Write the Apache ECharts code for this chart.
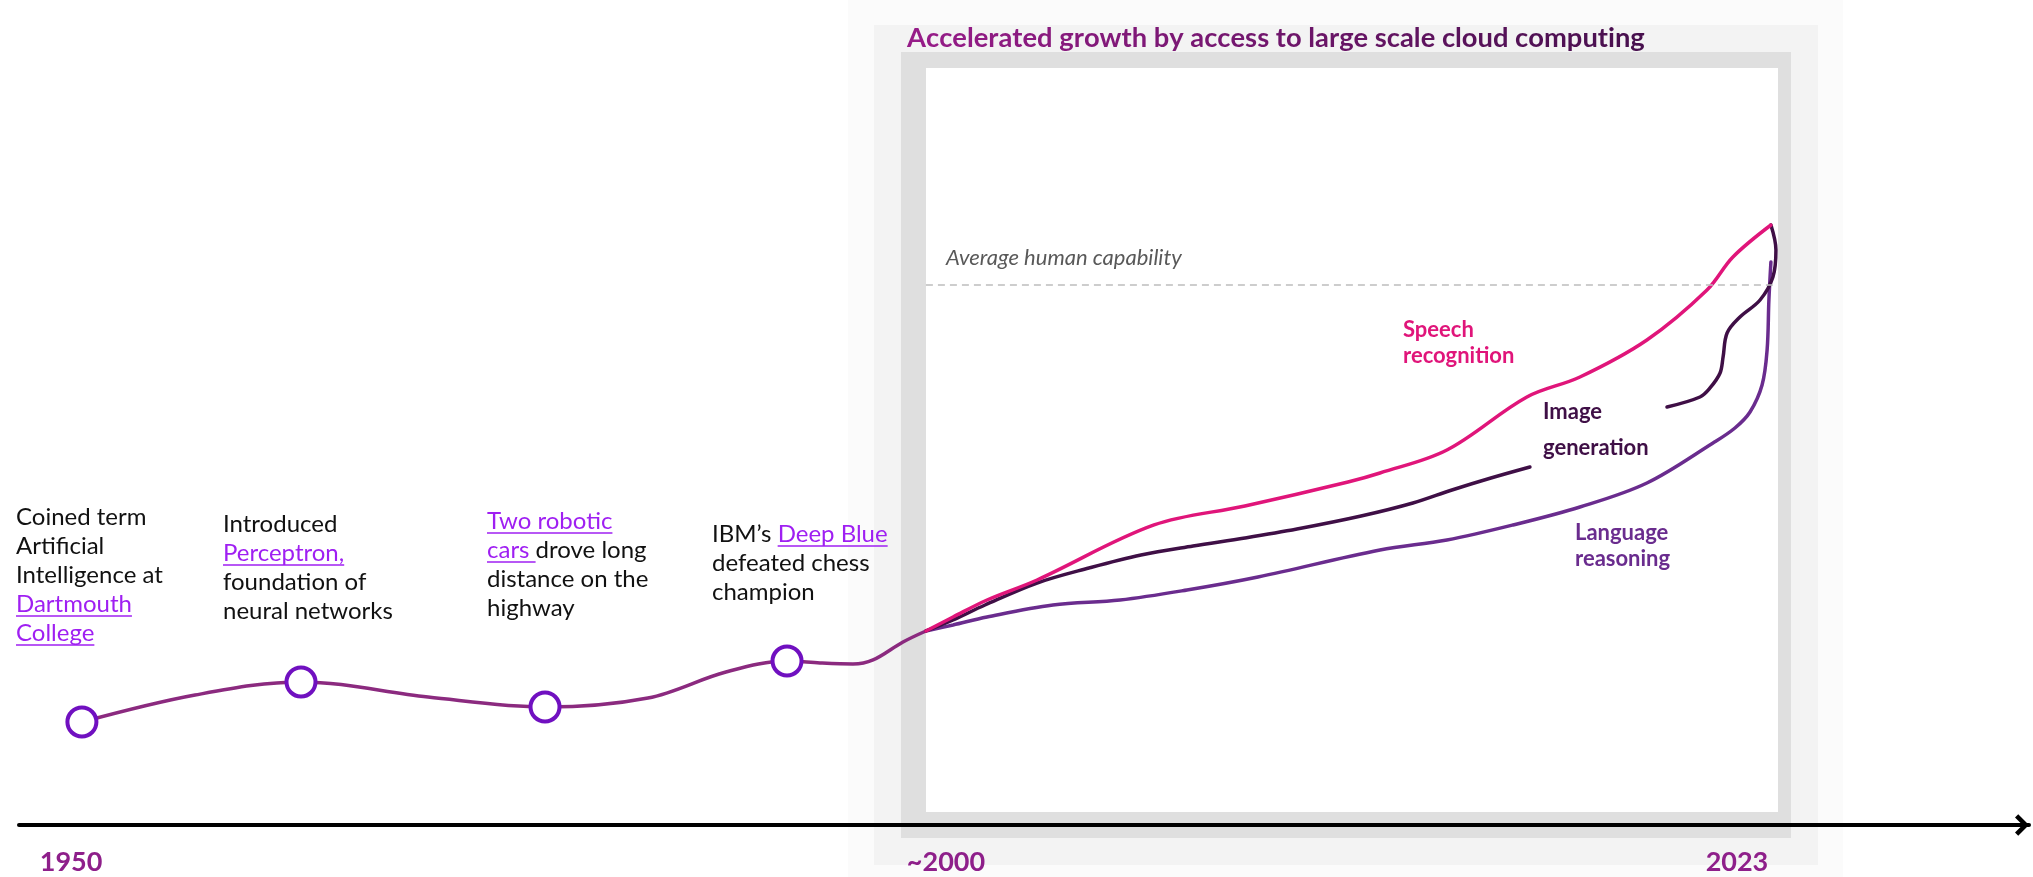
<!DOCTYPE html>
<html><head><meta charset="utf-8">
<script src="https://cdn.jsdelivr.net/npm/echarts@6/dist/echarts.min.js"></script>
<style>html,body{margin:0;padding:0;background:#fff}#c{width:2033px;height:877px}</style>
</head><body><div id="c"></div>
<script>
// ---------- DATA (timeline position 0-100, capability index: human level = 100) ----------
const milestoneX = [3.13, 14.03, 26.17, 38.21];
const milestoneY = [19.07, 26.48, 21.85, 30.37];

const baseX = [3.13, 8.76, 14.03, 20.35, 26.17, 31.29, 35.17, 38.21, 39.85, 41.49, 42.49, 43.98, 45.12];
const baseY = [19.07, 24.07, 26.48, 23.70, 21.85, 23.52, 28.33, 30.37, 30.00, 29.81, 30.56, 33.89, 35.93];

const speechX = [45.12, 46.47, 48.16, 50.65, 56.47, 60.99, 66.12, 67.71, 71.04, 75.02, 77.66, 80.99, 83.98, 85.27, 87.16];
const speechY = [35.93, 38.52, 41.67, 45.37, 55.56, 59.07, 63.52, 65.19, 69.44, 79.26, 82.96, 89.81, 99.07, 105.19, 111.11];

const imageAX = [45.12, 46.47, 48.06, 50.65, 53.23, 55.82, 58.41, 60.99, 63.58, 66.77, 69.35, 71.29, 73.23, 75.17];
const imageAY = [35.93, 37.96, 40.74, 44.81, 47.59, 50.00, 51.67, 53.15, 54.81, 57.22, 59.63, 62.04, 64.26, 66.30];
const imageBX = [81.99, 83.63, 84.13, 84.63, 84.78, 84.98, 85.62, 86.62, 87.26, 87.41, 87.16];
const imageBY = [77.41, 79.26, 80.93, 83.70, 86.67, 91.11, 94.07, 97.22, 101.48, 106.48, 111.11];

const langX = [45.12, 46.47, 48.16, 51.44, 54.78, 58.11, 61.64, 67.71, 71.04, 74.33, 77.66, 80.99, 84.28, 85.37, 86.12, 86.72, 86.97, 87.06, 87.16];
const langY = [35.93, 37.04, 38.52, 40.74, 41.67, 43.52, 45.93, 50.93, 52.78, 55.56, 58.89, 63.33, 70.74, 73.52, 76.48, 81.48, 87.96, 97.22, 104.26];

const humanLevel = 100;
const eraRange = [45.12, 87.51];

const tickLabels = ['1950', '~2000', '2023'];
const tickX = [2.59, 46.12, 85.47];

const titleText = 'Accelerated growth by access to large scale cloud computing';
const humanText = 'Average human capability';
const notes = [
  [['Coined term'], ['Artificial'], ['Intelligence at'], [{u: 'Dartmouth'}], [{u: 'College'}]],
  [['Introduced'], [{u: 'Perceptron,'}], ['foundation of'], ['neural networks']],
  [[{u: 'Two robotic'}], [{u: 'cars '}, 'drove long'], ['distance on the'], ['highway']],
  [['IBM\u2019s ', {u: 'Deep Blue'}], ['defeated chess'], ['champion']]
];
const seriesLabels = [['Speech', 'recognition'], ['Image', 'generation'], ['Language', 'reasoning']];

// ---------- STYLE / LAYOUT ----------
const C_SPEECH = '#E0157A', C_IMAGE = '#3F0F46', C_LANG = '#6A2C8E', C_BASE = '#8B2A7F';
const C_LINK = '#9F1FF2', C_TICK = '#8E1F8A';
const FONT = 'Lato';
const pairs = (xs, ys) => xs.map((x, i) => [x, ys[i]]);

const mctx = document.createElement('canvas').getContext('2d');
function measure(t, size, weight, style) {
  mctx.font = (style || 'normal') + ' ' + (weight || 'normal') + ' ' + size + 'px ' + FONT;
  return mctx.measureText(t).width;
}

const graphics = [];
// frame (shadowed panel)
[[848, 0, 995, 877, '#fbfbfb'], [874, 25, 944, 840, '#f3f3f3'], [901, 52, 890, 786, '#dfdfdf'], [926, 68, 852, 744, '#ffffff']]
  .forEach(r => graphics.push({type: 'rect', z: 0, silent: true, shape: {x: r[0], y: r[1], width: r[2], height: r[3]}, style: {fill: r[4]}}));

// notes
const noteLeft = [16, 223, 487, 712];
const noteTop = [517, 524, 521, 534];
const noteFs = 24, noteGap = 29;
notes.forEach((note, ni) => {
  note.forEach((line, li) => {
    let x = noteLeft[ni];
    const y = noteTop[ni] + li * noteGap;
    line.forEach(seg => {
      const isLink = typeof seg === 'object';
      const t = isLink ? seg.u : seg;
      const w = measure(t, noteFs);
      graphics.push({type: 'text', z: 10, x: x, y: y, style: {text: t, fontSize: noteFs, fontFamily: FONT, fill: isLink ? C_LINK : '#111', verticalAlign: 'middle', align: 'left'}});
      if (isLink) {
        const uy = y + noteFs * 0.5;
        graphics.push({type: 'line', z: 10, shape: {x1: x, y1: uy, x2: x + w, y2: uy}, style: {stroke: C_LINK, lineWidth: 1.6}});
      }
      x += w;
    });
  });
});

// series labels
const slLeft = [1403, 1543, 1575];
const slTop = [330, 412, 533];
const slGap = [26, 36, 26];
const slColor = [C_SPEECH, C_IMAGE, C_LANG];
seriesLabels.forEach((lines, i) => lines.forEach((t, li) => graphics.push({
  type: 'text', z: 10, x: slLeft[i], y: slTop[i] + li * slGap[i],
  style: {text: t, fontSize: 22, fontWeight: 'bold', fontFamily: FONT, fill: slColor[i], verticalAlign: 'middle'}
})));

// title: per-character colour blend (magenta -> dark purple)
const titleW = 735;
const titleFs = 26 * titleW / measure(titleText, 26, 'bold');
const cA = [0x96, 0x1C, 0x88], cB = [0x48, 0x10, 0x4E];
const rich = {};
let titleStr = '';
titleText.split('').forEach((ch, i) => {
  const f = i / (titleText.length - 1);
  const col = 'rgb(' + cA.map((v, k) => Math.round(v + (cB[k] - v) * f)).join(',') + ')';
  rich['c' + i] = {fill: col, color: col, fontSize: titleFs, fontWeight: 'bold', fontFamily: FONT};
  titleStr += '{c' + i + '|' + ch + '}';
});
graphics.push({type: 'text', z: 10, x: 907, y: 38, style: {text: titleStr, rich: rich, fontSize: titleFs, fontWeight: 'bold', fontFamily: FONT, verticalAlign: 'middle'}});
// human level caption
graphics.push({type: 'text', z: 10, x: 946, y: 258, style: {text: humanText, fontSize: 22, fontStyle: 'italic', fontFamily: FONT, fill: '#595959', verticalAlign: 'middle'}});

const lineSeries = (name, data, color) => ({
  type: 'line', name, data, smooth: 0.35, symbol: 'none', z: 3,
  lineStyle: {color, width: 3.5, cap: 'round'}, silent: true
});

const option = {
  animation: false,
  backgroundColor: '#ffffff',
  grid: {left: 19, right: 4, top: 15, bottom: 3.4},
  xAxis: {type: 'value', min: 0, max: 100, axisTick: {show: false}, axisLabel: {show: false}, splitLine: {show: false},
    axisLine: {show: true, onZero: true, lineStyle: {color: '#000', width: 4},
      symbol: ['none', 'path://M0,10 L10,0 L20,10 L17,13 L10,6 L3,13 Z'], symbolSize: [22, 14], symbolOffset: [0, -7]}},
  yAxis: {type: 'value', min: -9, max: 150, show: false},
  graphic: graphics,
  series: [
    Object.assign(lineSeries('base', pairs(baseX, baseY), C_BASE), {
      markLine: {silent: true, symbol: ['none', 'none'], label: {show: false},
        lineStyle: {color: '#bdbdbd', type: [7, 5], width: 1.5},
        data: [[{coord: [eraRange[0], humanLevel]}, {coord: [eraRange[1], humanLevel]}]]}
    }),
    lineSeries('Language reasoning', pairs(langX, langY), C_LANG),
    lineSeries('Image generation', pairs(imageAX, imageAY), C_IMAGE),
    lineSeries('Image generation', pairs(imageBX, imageBY), C_IMAGE),
    lineSeries('Speech recognition', pairs(speechX, speechY), C_SPEECH),
    {type: 'scatter', name: 'milestones', z: 5, data: pairs(milestoneX, milestoneY), symbol: 'circle', symbolSize: 29,
      itemStyle: {color: '#fff', borderColor: '#7010C0', borderWidth: 4, opacity: 1}, silent: true},
    {type: 'scatter', name: 'ticks', z: 5, symbolSize: 1, itemStyle: {color: 'transparent', opacity: 1}, silent: true,
      data: tickLabels.map((t, i) => ({name: t, value: [tickX[i], -6.85]})),
      label: {show: true, position: 'inside', formatter: p => p.name, fontFamily: FONT, fontWeight: 'bold', fontSize: 27, color: C_TICK, opacity: 1}}
  ]
};
const chart = echarts.init(document.getElementById('c'), null, {renderer: 'canvas'});
chart.setOption(option);
</script></body></html>
